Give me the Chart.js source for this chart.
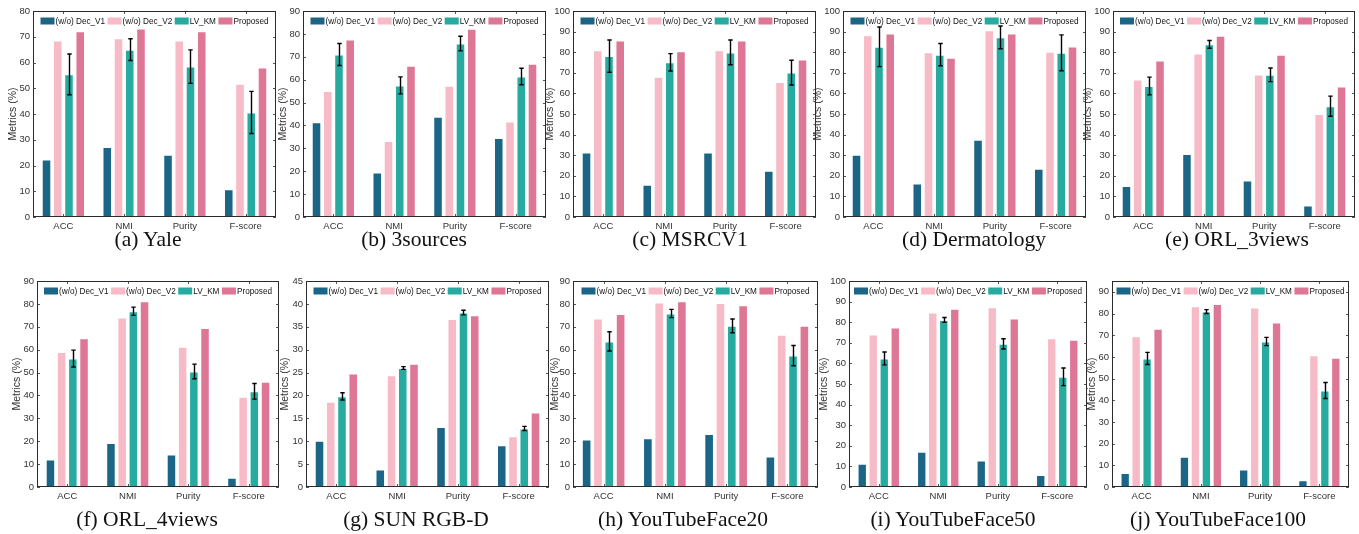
<!DOCTYPE html>
<html>
<head>
<meta charset="utf-8">
<script src="https://cdn.jsdelivr.net/npm/chart.js@4.4.1/dist/chart.umd.min.js"></script>
<style>
  html, body { margin: 0; padding: 0; background: #fff; width: 1359px; height: 534px; overflow: hidden; }
  body { position: relative; }
  canvas { position: absolute; }
  .cap { position: absolute; font-family: "Liberation Serif", "Times New Roman", serif; font-size: 21.5px; color: #111;
         transform: translate(-50%, -50%); white-space: nowrap; line-height: 1; }
</style>
</head>
<body>
<script>
// ---- shared labels ----
const categories = ['ACC', 'NMI', 'Purity', 'F-score'];
const seriesNames = ['(w/o) Dec_V1', '(w/o) Dec_V2', 'LV_KM', 'Proposed'];
const seriesColors = ['#1b6686', '#f7bac7', '#27aba0', '#de7695'];

// ---- results per dataset: rows follow seriesNames, columns follow categories ----
const yaleValues = [
  [22.3, 27.2, 24.2, 10.8],
  [68.5, 69.4, 68.5, 51.7],
  [55.4, 65.0, 58.4, 40.6],
  [72.1, 73.2, 72.1, 58.1]
];
const yaleStd = [7.9, 4.2, 6.5, 8.2];

const sourcesValues = [
  [41.4, 19.4, 43.8, 34.5],
  [55.0, 33.2, 57.3, 41.7],
  [71.0, 57.5, 75.8, 61.4],
  [77.5, 66.1, 82.2, 66.9]
];
const sourcesStd = [4.8, 3.7, 3.2, 3.6];

const msrcValues = [
  [31.3, 15.7, 31.3, 22.5],
  [81.0, 68.1, 81.0, 65.5],
  [78.1, 75.1, 79.9, 70.1],
  [85.7, 80.5, 85.7, 76.4]
];
const msrcStd = [7.8, 4.2, 6.0, 6.0];

const dermValues = [
  [30.2, 16.3, 37.5, 23.4],
  [88.2, 80.0, 90.6, 80.2],
  [82.6, 78.8, 87.2, 79.7],
  [89.1, 77.3, 89.1, 82.8]
];
const dermStd = [9.6, 5.4, 5.5, 8.7];

const orl3Values = [
  [15.1, 30.6, 17.7, 5.6],
  [66.8, 79.4, 69.2, 50.0],
  [63.6, 83.8, 69.0, 53.8],
  [76.0, 88.0, 78.8, 63.3]
];
const orl3Std = [4.3, 1.9, 3.3, 4.9];

const orl4Values = [
  [12.0, 19.2, 14.2, 4.0],
  [59.0, 74.0, 61.3, 39.4],
  [56.1, 76.8, 50.5, 41.8],
  [65.0, 81.1, 69.5, 46.0]
];
const orl4Std = [3.7, 1.8, 3.2, 3.4];

const sunValues = [
  [10.1, 3.8, 13.1, 9.1],
  [18.6, 24.4, 36.7, 11.1],
  [19.8, 26.0, 38.1, 12.8],
  [24.8, 26.9, 37.5, 16.3]
];
const sunStd = [0.8, 0.3, 0.5, 0.45];

const ytf20Values = [
  [20.7, 21.3, 23.2, 13.3],
  [73.6, 80.6, 80.4, 66.5],
  [63.6, 75.8, 70.4, 57.4],
  [75.6, 81.2, 79.4, 70.5]
];
const ytf20Std = [4.2, 1.8, 3.0, 4.4];

const ytf50Values = [
  [11.3, 17.1, 12.9, 5.8],
  [74.0, 84.7, 87.3, 72.2],
  [62.4, 81.1, 69.5, 53.5],
  [77.4, 86.5, 81.8, 71.5]
];
const ytf50Std = [3.1, 1.2, 2.5, 4.3];

const ytf100Values = [
  [6.4, 14.0, 8.1, 3.1],
  [69.5, 83.4, 82.8, 60.8],
  [59.3, 80.9, 67.1, 44.5],
  [73.0, 84.4, 75.9, 59.6]
];
const ytf100Std = [2.8, 0.9, 1.9, 3.7];

// ---- panels: data + axis range ----
const panels = [
  { caption: '(a) Yale',           values: yaleValues,    std: yaleStd,    yMax: 80,  step: 10 },
  { caption: '(b) 3sources',       values: sourcesValues, std: sourcesStd, yMax: 90,  step: 10 },
  { caption: '(c) MSRCV1',         values: msrcValues,    std: msrcStd,    yMax: 100, step: 10 },
  { caption: '(d) Dermatology',    values: dermValues,    std: dermStd,    yMax: 100, step: 10 },
  { caption: '(e) ORL_3views',     values: orl3Values,    std: orl3Std,    yMax: 100, step: 10 },
  { caption: '(f) ORL_4views',     values: orl4Values,    std: orl4Std,    yMax: 90,  step: 10 },
  { caption: '(g) SUN RGB-D',      values: sunValues,     std: sunStd,     yMax: 45,  step: 5 },
  { caption: '(h) YouTubeFace20',  values: ytf20Values,   std: ytf20Std,   yMax: 90,  step: 10 },
  { caption: '(i) YouTubeFace50',  values: ytf50Values,   std: ytf50Std,   yMax: 100, step: 10 },
  { caption: '(j) YouTubeFace100', values: ytf100Values,  std: ytf100Std,  yMax: 95,  step: 10 }
];

// ---- page placement of each plot box (left, top, right, bottom), y-title x and caption centre ----
const boxes = [
  { l: 33,   t: 11,  r: 276,  b: 217, titleX: 13,   capX: 148,  capY: 240 },
  { l: 303,  t: 11,  r: 546,  b: 217, titleX: 283,  capX: 414,  capY: 240 },
  { l: 573,  t: 11,  r: 816,  b: 217, titleX: 550,  capX: 690,  capY: 240 },
  { l: 843,  t: 11,  r: 1086, b: 217, titleX: 818,  capX: 974,  capY: 240 },
  { l: 1113, t: 11,  r: 1355, b: 217, titleX: 1088, capX: 1237, capY: 240 },
  { l: 37,   t: 281, r: 279,  b: 487, titleX: 17,   capX: 147,  capY: 520 },
  { l: 306,  t: 281, r: 549,  b: 487, titleX: 285,  capX: 416,  capY: 520 },
  { l: 573,  t: 281, r: 818,  b: 487, titleX: 555,  capX: 683,  capY: 520 },
  { l: 849,  t: 281, r: 1087, b: 487, titleX: 824,  capX: 953,  capY: 520 },
  { l: 1112, t: 281, r: 1349, b: 487, titleX: 1092, capX: 1218, capY: 520 }
];

const AXIS_W = 36, X_AXIS_H = 22, PAD_TOP = 11, PAD_RIGHT = 4;
const tickFont = { family: '"Liberation Sans", Arial, sans-serif', size: 9.5 };
const INK = '#2b2b2b';

// Box frame, inward ticks, error bars and in-axes legend
const extras = {
  id: 'extras',
  afterDatasetsDraw(chart, args, opts) {
    const ctx = chart.ctx;
    const a = chart.chartArea;
    const xs = chart.scales.x, ys = chart.scales.y;
    ctx.save();

    // error bars on LV_KM
    const meta = chart.getDatasetMeta(2);
    ctx.strokeStyle = '#000';
    ctx.lineWidth = 1.4;
    meta.data.forEach((bar, i) => {
      const v = chart.data.datasets[2].data[i];
      const s = opts.std[i];
      const yTop = ys.getPixelForValue(v + s);
      const yBot = ys.getPixelForValue(v - s);
      const x = Math.round(bar.x) + 0.5;
      ctx.beginPath();
      ctx.moveTo(x, yTop); ctx.lineTo(x, yBot);
      ctx.moveTo(x - 2.2, yTop); ctx.lineTo(x + 2.2, yTop);
      ctx.moveTo(x - 2.2, yBot); ctx.lineTo(x + 2.2, yBot);
      ctx.stroke();
    });

    // inward ticks
    ctx.strokeStyle = '#555';
    ctx.lineWidth = 1;
    ctx.beginPath();
    ys.ticks.forEach(t => {
      const y = Math.round(ys.getPixelForValue(t.value)) + 0.5;
      ctx.moveTo(a.left, y); ctx.lineTo(a.left + 3, y);
      ctx.moveTo(a.right, y); ctx.lineTo(a.right - 3, y);
    });
    categories.forEach((c, i) => {
      const x = Math.round(xs.getPixelForValue(i)) + 0.5;
      ctx.moveTo(x, a.bottom); ctx.lineTo(x, a.bottom - 3);
      ctx.moveTo(x, a.top); ctx.lineTo(x, a.top + 3);
    });
    ctx.stroke();

    // frame
    ctx.strokeStyle = INK;
    ctx.lineWidth = 1;
    ctx.strokeRect(Math.round(a.left) + 0.5, Math.round(a.top) + 0.5,
                   Math.round(a.right - a.left) - 1, Math.round(a.bottom - a.top) - 1);

    // legend in one row along the top of the axes
    ctx.font = '8.2px "Liberation Sans", Arial, sans-serif';
    ctx.textBaseline = 'middle';
    ctx.textAlign = 'left';
    const sw = 14, sh = 7, gapAfterSwatch = 1, gapItems = 2.5;
    const widths = seriesNames.map(n => ctx.measureText(n).width);
    const total = widths.reduce((s, w) => s + sw + gapAfterSwatch + w, 0) + gapItems * (seriesNames.length - 1);
    let x = a.left + (a.right - a.left - total) / 2;
    const yc = a.top + 10;
    seriesNames.forEach((n, i) => {
      ctx.fillStyle = seriesColors[i];
      ctx.fillRect(x, yc - sh / 2, sw, sh);
      x += sw + gapAfterSwatch;
      ctx.fillStyle = '#111';
      ctx.fillText(n, x, yc + 0.5);
      x += widths[i] + gapItems;
    });
    ctx.restore();
  }
};

panels.forEach((p, k) => {
  const b = boxes[k];
  const plotW = b.r - b.l, plotH = b.b - b.t;
  const canvas = document.createElement('canvas');
  const W = AXIS_W + plotW + PAD_RIGHT, H = PAD_TOP + plotH + X_AXIS_H;
  const left = b.l - AXIS_W, top = b.t - PAD_TOP;
  canvas.width = W; canvas.height = H;
  canvas.style.width = W + 'px'; canvas.style.height = H + 'px';
  canvas.style.left = left + 'px'; canvas.style.top = top + 'px';
  document.body.appendChild(canvas);

  const titleSize = 10.5;
  const titlePad = (b.titleX - left) - titleSize * 1.2 / 2;

  new Chart(canvas, {
    type: 'bar',
    data: {
      labels: categories,
      datasets: seriesNames.map((name, i) => ({
        label: name,
        data: p.values[i],
        backgroundColor: seriesColors[i],
        borderColor: 'rgba(255,255,255,0.45)',
        borderWidth: 1,
        borderSkipped: 'bottom',
        categoryPercentage: 0.74,
        barPercentage: 0.85
      }))
    },
    options: {
      responsive: false,
      animation: false,
      devicePixelRatio: 1,
      layout: { padding: { top: PAD_TOP, right: PAD_RIGHT, left: 0, bottom: 0 } },
      plugins: {
        legend: { display: false },
        tooltip: { enabled: false },
        extras: { std: p.std }
      },
      scales: {
        x: {
          grid: { display: false, drawTicks: false },
          border: { display: false },
          ticks: { font: tickFont, color: '#333', padding: 4, maxRotation: 0, autoSkip: false },
          afterFit: s => { s.height = X_AXIS_H; }
        },
        y: {
          min: 0, max: p.yMax,
          grid: { display: false, drawTicks: false },
          border: { display: false },
          ticks: { stepSize: p.step, includeBounds: false, font: tickFont, color: '#333', padding: 3 },
          title: {
            display: true, text: 'Metrics (%)', color: '#333',
            font: { family: '"Liberation Sans", Arial, sans-serif', size: titleSize },
            padding: { top: titlePad, bottom: 0 }
          },
          afterFit: s => { s.width = AXIS_W; }
        }
      }
    },
    plugins: [extras]
  });

  const cap = document.createElement('div');
  cap.className = 'cap';
  cap.textContent = p.caption;
  cap.style.left = b.capX + 'px';
  cap.style.top = b.capY + 'px';
  document.body.appendChild(cap);
});
</script>
</body>
</html>
